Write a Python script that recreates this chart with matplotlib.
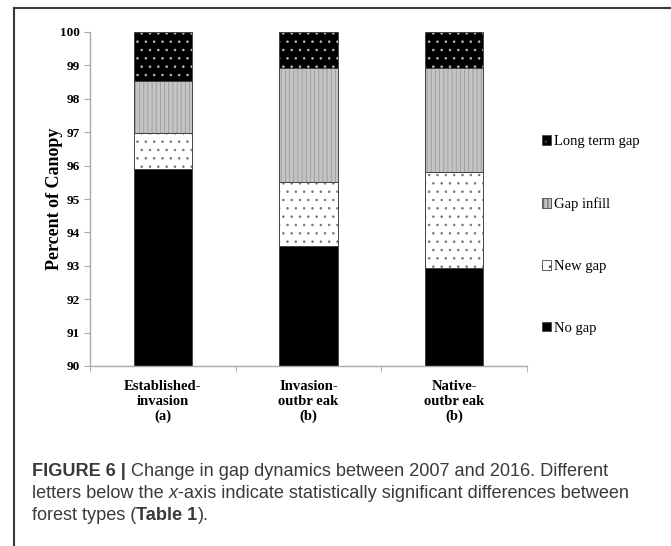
import numpy as np
import matplotlib
matplotlib.use('Agg')
import matplotlib.pyplot as plt
from matplotlib.patches import Patch
from matplotlib.lines import Line2D

# === Data ===
categories = ['Established-\ninvasion\n(a)', 'Invasion-\noutbr eak\n(b)', 'Native-\noutbr eak\n(b)']
series = ['No gap', 'New gap', 'Gap infill', 'Long term gap']
# percent of canopy per class (No gap is the value of the top of the black segment)
no_gap = [95.9, 93.6, 92.93]
new_gap = [1.08, 1.9, 2.87]
gap_infill = [1.55, 3.43, 3.12]
long_term_gap = [1.47, 1.07, 1.08]

caption_lines = [
    [('FIGURE 6 |', 'bold', 'normal'), (' Change in gap dynamics between 2007 and 2016. Different', 'normal', 'normal')],
    [('letters below the ', 'normal', 'normal'), ('x', 'normal', 'italic'),
     ('-axis indicate statistically significant differences between', 'normal', 'normal')],
    [('forest types (', 'normal', 'normal'), ('Table 1', 'bold', 'normal'), (').', 'normal', 'normal')],
]

# === Styles ===
styles = {
    'No gap':        dict(fc='black', hatch=None, hc='black'),
    'New gap':       dict(fc='white', hatch='..', hc='#777777'),
    'Gap infill':    dict(fc='#c4c4c4', hatch='||||', hc='#9a9a9a'),
    'Long term gap': dict(fc='black', hatch='..', hc='#bbbbbb'),
}
serif = ['Liberation Serif', 'DejaVu Serif']
plt.rcParams['hatch.linewidth'] = 0.6

fig = plt.figure(figsize=(6.71, 5.46), dpi=100)
ax = fig.add_axes([90/671, 1-366/546, 437/671, 334/546])

x = np.arange(len(categories))
width = 0.4
vals = [no_gap, new_gap, gap_infill, long_term_gap]
bottom = np.full(len(categories), 90.0)
base = np.array(no_gap) - 90.0
for i, (name, v) in enumerate(zip(series, vals)):
    v = np.array(v, dtype=float)
    h = base if i == 0 else v
    st = styles[name]
    ax.bar(x, h, width, bottom=bottom, color=st['fc'], edgecolor=st['hc'],
           hatch=st['hatch'], linewidth=0)
    ax.bar(x, h, width, bottom=bottom, facecolor='none', edgecolor='#444444', linewidth=0.7)
    bottom = bottom + h

ax.set_xlim(-0.5, 2.5)
ax.set_ylim(90, 100)
ax.set_yticks(np.arange(90, 101, 1))
ax.set_yticklabels([str(t) for t in range(90, 101)], fontfamily=serif, fontweight='bold', fontsize=9.5)
ax.set_xticks(x)
ax.set_xticklabels(categories, fontfamily=serif, fontweight='bold', fontsize=10.5, linespacing=1.2)
ax.set_xticks([-0.5, 0.5, 1.5, 2.5], minor=True)
ax.tick_params(axis='x', which='major', length=0, pad=10)
ax.tick_params(axis='x', which='minor', length=4, color='#aaaaaa', direction='out')
ax.tick_params(axis='y', length=4, color='#aaaaaa', direction='out', pad=3)
for s in ['top', 'right']:
    ax.spines[s].set_visible(False)
for s in ['left', 'bottom']:
    ax.spines[s].set_color('#aaaaaa')
    ax.spines[s].set_linewidth(1.0)
ax.set_ylabel('Percent of Canopy', fontfamily=serif, fontweight='bold', fontsize=13)
ax.yaxis.set_label_coords(-0.062, 0.5)

# Legend (reversed order)
handles = []
for name in series[::-1]:
    st = styles[name]
    handles.append(Patch(facecolor=st['fc'], edgecolor='#444444', hatch=st['hatch'], linewidth=0.6))
leg = fig.legend(handles, series[::-1], loc='center left', bbox_to_anchor=(536/671, 1-235/546),
                 frameon=False, prop={'family': serif, 'size': 10.5}, handlelength=0.65,
                 handleheight=0.65, handletextpad=0.2, labelspacing=3.35, borderaxespad=0)

# Frame around the figure panel
fig.add_artist(Line2D([14/671, 1], [1-8/546, 1-8/546], color='#3a3a3a', lw=1.5, transform=fig.transFigure))
fig.add_artist(Line2D([14/671, 14/671], [0, 1-8/546], color='#3a3a3a', lw=1.5, transform=fig.transFigure))

# Caption with mixed styles
renderer = fig.canvas.get_renderer()
cap_family = ['Liberation Sans', 'DejaVu Sans']
y_lines = [472, 494, 516]
for line, ypx in zip(caption_lines, y_lines):
    xpx = 32
    for txt, wt, sty in line:
        t = fig.text(xpx/671, 1-ypx/546, txt, fontsize=13.1, fontweight=wt, fontstyle=sty,
                     family=cap_family, color='#3a3a3a', va='center', ha='left')
        bb = t.get_window_extent(renderer=renderer)
        xpx += bb.width

fig.savefig('out.png', dpi=100, facecolor='white')
